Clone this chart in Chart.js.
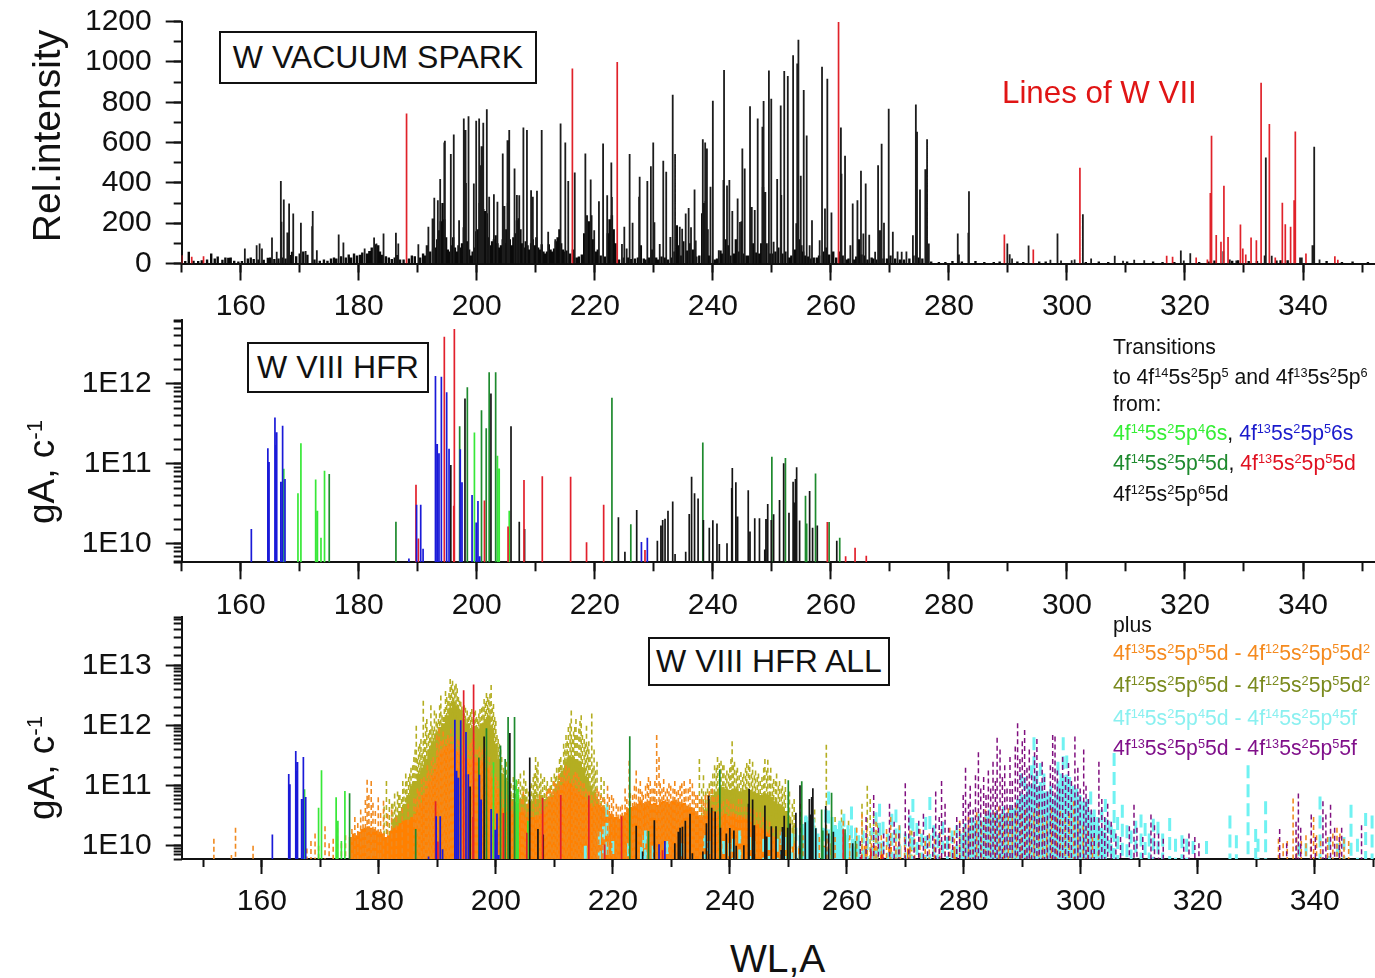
<!DOCTYPE html>
<html>
<head>
<meta charset="utf-8">
<title>W spectra</title>
<script src="https://cdn.jsdelivr.net/npm/chart.js@4/dist/chart.umd.min.js"></script>
<style>
  body { margin: 0; background: #fff; font-family: "Liberation Sans", Arial, sans-serif; color: #111; }
  #page { position: relative; width: 1375px; height: 978px; overflow: hidden; }
  canvas { position: absolute; left: 0; }
  .box { position: absolute; border: 2px solid #111; box-sizing: border-box; font-size: 32px; text-align: center; white-space: nowrap; background: #fff; z-index: 5; }
  .txt { position: absolute; white-space: nowrap; z-index: 5; }
  .leg { position: absolute; left: 1113px; font-size: 21.2px; white-space: nowrap; transform: translateY(-50%); z-index: 5; }
  .rot { position: absolute; white-space: nowrap; transform: translate(-50%, -50%) rotate(-90deg); z-index: 5; }
  sup { font-size: 0.6em; line-height: 0; vertical-align: baseline; position: relative; top: -0.55em; }
</style>
</head>
<body>
<div id="page">
  <canvas id="sparkChart" width="1375" height="335" style="top:0"></canvas>
  <canvas id="hfrChart" width="1375" height="340" style="top:300px"></canvas>
  <canvas id="allChart" width="1375" height="325" style="top:600px"></canvas>

  <div class="rot" style="left:47px;top:136px;font-size:39px">Rel.intensity</div>
  <div class="rot" style="left:42px;top:472px;font-size:37px">gA, c<sup>-1</sup></div>
  <div class="rot" style="left:42px;top:768px;font-size:37px">gA, c<sup>-1</sup></div>
  <div class="txt" style="left:730px;top:937px;font-size:39px">WL,A</div>

  <div class="box" style="left:219px;top:31px;width:318px;height:53px;line-height:49px">W VACUUM SPARK</div>
  <div class="box" style="left:247px;top:342px;width:182px;height:51px;line-height:47px">W VIII HFR</div>
  <div class="box" style="left:648px;top:637px;width:242px;height:49px;line-height:45px">W VIII HFR ALL</div>
  <div class="txt" style="left:1002px;top:75px;font-size:31.3px;color:#e01515">Lines of W VII</div>

  <div class="leg" style="top:347px">Transitions</div>
  <div class="leg" style="top:377px">to 4f<sup>14</sup>5s<sup>2</sup>5p<sup>5</sup> and 4f<sup>13</sup>5s<sup>2</sup>5p<sup>6</sup></div>
  <div class="leg" style="top:404px">from:</div>
  <div class="leg" style="top:433px"><span style="color:#35ee35">4f<sup>14</sup>5s<sup>2</sup>5p<sup>4</sup>6s</span>, <span style="color:#1a1acc">4f<sup>13</sup>5s<sup>2</sup>5p<sup>5</sup>6s</span></div>
  <div class="leg" style="top:463px"><span style="color:#1e8a2e">4f<sup>14</sup>5s<sup>2</sup>5p<sup>4</sup>5d</span>, <span style="color:#e01020">4f<sup>13</sup>5s<sup>2</sup>5p<sup>5</sup>5d</span></div>
  <div class="leg" style="top:494px">4f<sup>12</sup>5s<sup>2</sup>5p<sup>6</sup>5d</div>

  <div class="leg" style="top:625px">plus</div>
  <div class="leg" style="top:653px;color:#f58a1e">4f<sup>13</sup>5s<sup>2</sup>5p<sup>5</sup>5d - 4f<sup>12</sup>5s<sup>2</sup>5p<sup>5</sup>5d<sup>2</sup></div>
  <div class="leg" style="top:685px;color:#7a8a1e">4f<sup>12</sup>5s<sup>2</sup>5p<sup>6</sup>5d - 4f<sup>12</sup>5s<sup>2</sup>5p<sup>5</sup>5d<sup>2</sup></div>
  <div class="leg" style="top:718px;color:#8af0f0">4f<sup>14</sup>5s<sup>2</sup>5p<sup>4</sup>5d - 4f<sup>14</sup>5s<sup>2</sup>5p<sup>4</sup>5f</div>
  <div class="leg" style="top:748px;color:#80108a">4f<sup>13</sup>5s<sup>2</sup>5p<sup>5</sup>5d - 4f<sup>13</sup>5s<sup>2</sup>5p<sup>5</sup>5f</div>
</div>

<script>
// All lists are [wavelength, height]. Spark heights are rel. intensity, gA heights are in units of 1E10.
const sparkPeaks = [[160.7,75],[162.7,91],[163.2,99],[163.6,75],[165.3,129],[166.1,58],[166.8,410],[166.9,207],[167.3,318],[167.9,154],[168.2,298],[168.9,248],[170.2,202],[171,62],[172.1,185],[172.2,260],[172.9,66],[176.6,144],[177.4,104],[181,75],[182.6,129],[183,99],[184.2,149],[186.3,152],[186.7,99],[190.1,96],[191.5,91],[191.8,182],[192.5,223],[192.8,326],[193.4,314],[193.8,419],[194.6,609],[194.5,600],[195.6,543],[196.1,640],[197,215],[197.8,720],[198.1,662],[198.6,731],[199.5,397],[199.9,708],[200.4,720],[200.6,488],[200.8,582],[201.1,698],[201.7,766],[202.1,331],[202.9,344],[203.5,306],[204.4,546],[204.7,285],[205.2,612],[205.5,662],[206.4,472],[206.8,340],[207.2,339],[207.9,675],[208.5,662],[209.2,364],[209.5,331],[210.2,361],[211,662],[212.1,157],[213.3,120],[214.2,695],[215,601],[215.5,409],[216.6,452],[218.4,546],[218.7,240],[219.3,417],[219.9,165],[220.7,309],[221.4,596],[222.1,339],[222.8,501],[222.9,330],[224.6,97],[225,182],[225.4,75],[225.9,543],[226.4,202],[227.5,331],[227.6,430],[228.9,409],[229.5,483],[229.9,601],[230.1,205],[231,97],[231.6,510],[232.1,455],[232.8,132],[233.2,837],[233.6,543],[234.4,182],[234.8,173],[235.4,248],[235.9,276],[236.3,180],[236.9,367],[237.1,114],[238.3,617],[238.7,601],[239,571],[239.6,381],[240,808],[241,66],[241.8,414],[241.9,960],[242.4,387],[242.8,414],[243.3,260],[244.2,323],[244.6,206],[245,571],[245.4,472],[246.3,781],[246.6,280],[247.1,265],[247.6,720],[248.4,679],[248.6,806],[248.9,355],[249.5,958],[249.9,818],[250.3,108],[250.9,419],[251.5,784],[251.6,340],[252.1,955],[252.7,930],[253.6,1033],[254.3,993],[254.5,1110],[254.9,435],[255.4,861],[255.9,635],[256.4,90],[256.8,215],[258.1,115],[258.5,976],[259,273],[259.4,917],[260.1,253],[261.7,675],[261.8,445],[262.4,535],[263.3,91],[263.7,298],[264.5,314],[265.1,460],[265.5,149],[265.9,397],[266.5,143],[267.5,58],[268,488],[268.3,165],[268.6,594],[269,202],[269.8,768],[270.5,157],[271.3,60],[272,58],[272.8,60],[273.9,140],[274.4,789],[274.6,654],[275.1,367],[276,468],[276.3,617],[276.6,99],[281.5,149],[281.7,45],[283.3,152],[283.4,359],[289.9,99],[290.3,46],[290.7,25],[293.5,89],[297.2,18],[298.4,149],[299,15],[300.8,16],[301.3,20],[302.7,245],[304.1,25],[308.1,38],[309.5,14],[311.4,18],[313.1,16],[319.3,65],[319.8,15],[320.9,51],[326.5,61],[327.6,20],[328.7,15],[333.7,526],[333.5,40],[334.7,38],[339.5,30],[339.8,30],[341.6,91],[341.9,579],[342.8,20]];
const sparkGrass = [[150.6,12],[151.2,58],[152,14],[152.8,12],[153.4,16],[154.3,20],[155,50],[155.6,25],[156.1,35],[156.9,18],[157.4,30],[157.9,28],[158.3,30],[158.9,14],[159.6,10],[160.2,12],[161.2,25],[161.7,30],[162.2,22],[163,20],[163.9,18],[164.6,28],[165,30],[165.7,22],[166.4,25],[167,30],[167.6,25],[168.4,42],[168.7,58],[169.4,36],[170,50],[170.6,60],[171.3,44],[172.5,20],[173.4,14],[174.1,20],[174.7,14],[175.3,25],[175.8,30],[176.2,25],[177,36],[177.8,30],[178.3,45],[178.7,30],[179.2,50],[179.7,40],[180.2,44],[180.6,55],[181.4,50],[181.8,62],[182.2,80],[182.9,95],[183.3,90],[183.6,60],[184,44],[184.6,36],[185.1,30],[185.6,22],[186.1,30],[186.5,42],[187,20],[187.6,20],[188.5,25],[189,40],[189.5,36],[190.4,30],[190.9,50],[191.2,40],[192.1,60],[192.6,70],[193,80],[193.3,120],[193.6,165],[193.9,210],[194.2,300],[194.5,220],[194.8,130],[195.1,70],[195.4,60],[195.7,90],[196,130],[196.3,80],[196.6,60],[196.9,90],[197.2,80],[197.5,100],[197.8,180],[198.1,400],[198.4,110],[198.7,70],[199,40],[199.3,60],[199.6,80],[199.9,160],[200.2,170],[200.5,300],[200.8,290],[201.1,270],[201.4,260],[201.7,250],[202,130],[202.3,90],[202.6,110],[202.9,120],[203.2,140],[203.5,100],[203.8,80],[204.1,90],[204.4,120],[204.7,100],[205,170],[205.3,300],[205.6,120],[205.9,90],[206.2,130],[206.5,150],[206.8,215],[207.1,225],[207.4,170],[207.7,100],[208,80],[208.3,110],[208.6,90],[208.9,70],[209.2,100],[209.5,120],[209.8,90],[210.1,130],[210.4,80],[210.7,70],[211,95],[211.3,60],[211.6,50],[211.9,60],[212.2,95],[212.5,70],[212.8,60],[213.1,75],[213.4,110],[213.7,130],[214,170],[214.3,100],[214.6,70],[214.9,60],[215.2,65],[215.8,50],[216.3,70],[216.9,30],[217.3,35],[217.8,45],[218.2,150],[218.6,180],[219,210],[219.4,240],[219.7,120],[220.2,60],[220.5,70],[221,40],[221.7,35],[222.2,150],[222.5,220],[222.9,240],[223.2,170],[223.5,100],[224.1,20],[224.9,30],[225.6,30],[226.1,22],[226.8,25],[227.3,30],[227.8,90],[228.3,25],[228.6,20],[229.2,30],[229.7,70],[230.4,30],[230.8,20],[231.3,35],[231.9,30],[232.4,20],[233,30],[233.5,60],[233.9,190],[234.2,90],[234.6,40],[235,110],[235.6,65],[236.1,100],[236.6,70],[237.2,35],[237.7,40],[238.2,250],[238.5,300],[238.8,310],[239.1,170],[239.5,40],[240.3,20],[240.7,25],[241.3,65],[241.7,50],[242.2,120],[242.6,90],[243,40],[243.6,50],[243.9,120],[244.4,60],[244.9,210],[245.2,50],[245.7,40],[246,40],[246.8,100],[247.3,55],[247.8,50],[248.2,100],[248.5,380],[248.8,250],[249.1,100],[249.7,50],[250.1,50],[250.6,60],[251.1,80],[251.8,50],[252.3,60],[252.9,30],[253.3,40],[253.9,70],[254.2,200],[254.6,120],[255,90],[255.3,60],[255.7,40],[256.1,35],[256.6,25],[257.1,30],[257.6,30],[258,40],[258.8,60],[259.2,80],[259.7,45],[260.4,60],[260.9,30],[261.4,60],[262,40],[262.7,20],[263,25],[263.9,20],[264.3,35],[264.8,120],[265.2,45],[265.7,40],[266.2,20],[266.9,30],[267.2,25],[267.7,20],[268.4,30],[268.9,25],[269.5,25],[270.1,40],[270.9,25],[271.7,20],[272.4,20],[273.3,25],[274,40],[274.9,30],[275.5,25],[276.2,30],[277,10],[278.3,8],[279.4,8],[280.6,12],[282.2,10],[284.5,12],[286,8],[287.6,8],[288.6,10],[291.6,10],[292.6,8],[295.3,10],[296.4,10],[303.2,8],[305.4,10],[307,8],[310.2,10],[314.6,10],[316.2,8],[318.2,8],[322.4,8],[324,10],[325,15],[328,14],[329,16],[330.8,12],[332.2,12],[335.5,15],[336.2,16],[337.4,16],[344,12],[346.6,8],[348.4,10],[351,8]];
const sparkRed = [[150,41],[151.7,33],[153.7,36],[188.1,745],[216.2,968],[223.8,1000],[261.3,1198],[289.4,144],[294.3,70],[302.2,475],[316.9,38],[317.9,33],[321.9,30],[323.8,20],[324.3,350],[324.5,634],[325.3,141],[326.1,108],[326.6,386],[327.3,132],[329.4,194],[329.8,74],[330.3,45],[331.2,129],[332.1,116],[332.9,897],[334.3,692],[335.3,30],[336.5,301],[337,195],[337.9,182],[338.5,314],[338.7,655],[340.5,50],[345.4,36],[345.9,18]];

const blueLines = [[161.8,1.54],[164.6,15.7],[164.8,10.6],[165.8,38],[166,17.3],[166.1,24.9],[166.8,6],[167.1,30],[167.5,6.5],[188.5,0.66],[189.8,3.1],[190.5,3.1],[190.9,0.87],[193,126],[193.3,17.8],[193.6,13.6],[194,123],[194.9,78.7],[195.3,15.5],[197.2,15.3],[197.5,5.9],[199.2,4.1],[199.9,1.85],[200.2,3.45],[200.5,0.7],[227.9,1.06],[228.9,1.2]];
const greenLines = [[167.3,8.7],[169.7,4.3],[170.2,18.1],[172.7,6.4],[173,2.6],[173.6,1.2],[174.2,8.2],[199.6,24.7],[203.5,12.7],[203.8,8.8],[205.5,2.6]];
const darkGreenLines = [[175,7.5],[186.3,1.9],[197.1,29.5],[198.4,91],[200.8,47],[201.6,28],[202.1,140],[203.2,140],[222.9,67],[226.1,1.76],[238.3,18.6],[250,12.3],[252.3,11.9],[255.7,4],[255.9,1.8],[257.4,7.6],[259.7,1.88],[261.5,1.2]];
const redLines = [[189.7,5.5],[190.1,1.17],[194.5,390],[196.2,487],[196.1,3],[201.3,3.5],[205.3,1.65],[208,6.3],[211.1,7],[215.9,6.9],[218.6,1.05],[221.5,3.1],[228.5,0.84],[259.4,1.88],[262.5,0.7],[264.1,0.9],[266,0.71]];
const blackLines = [[195.6,9.7],[198,66],[202.4,76],[205.8,29.5],[207.2,1.9],[208.1,1.54],[224,2.15],[225.1,0.8],[227.1,2.66],[230.6,1.1],[231.2,1.7],[231.5,2],[231.9,2.07],[232.4,2.6],[233.2,3.4],[233.6,0.75],[235.4,0.8],[236,2.37],[236.4,6.9],[236.9,4.3],[237.5,3.7],[238.4,2],[239.4,1.6],[240,1.98],[240.7,1.8],[241.1,1],[242.4,1.02],[243.2,5],[243.3,8.9],[243.9,5.9],[244.2,2.2],[246,4.7],[246.3,1.43],[247.1,2.1],[247.9,2.1],[248.8,0.85],[249,2.05],[249.3,3.16],[249.9,1.99],[250.3,2.35],[251.3,3.55],[252,10.2],[252.9,2.46],[253.6,6],[253.8,3.3],[254,6.5],[254.2,9.1],[254.7,1.96],[256.4,4.6],[256.9,1.6],[257.7,1.7],[261,1.1]];

// dashed series of the bottom panel: the tall separate lines
const orangeLines = [[151.8,1.3],[154.8,0.7],[155.5,2],[158.5,1],[167.7,0.9],[168.4,1.2],[169.1,1.6],[169.7,1],[170.8,2.1],[171.5,1.1],[172.2,1.3],[172.9,2],[173.6,1.1],[174.3,1.5],[175.4,1.9],[175.9,3],[176.4,2.4],[176.9,4],[177.3,3.1],[177.7,5.8],[178,12.6],[178.3,7],[178.7,12],[179,5.2],[179.4,3.8],[179.9,6.4],[180.3,3.5],[180.8,5.6],[181.5,3.4],[182.2,4],[183,3],[184,4.2],[185,5],[186,6.2],[186.8,8],[187.7,14],[188.5,18],[189.3,30],[189.9,70],[190.5,56],[191.2,48],[192,62],[192.8,50],[193.5,60],[194.3,80],[195,46],[195.8,52],[196.6,40],[197.4,36],[198.2,45],[199,20],[199.8,16],[200.6,9],[201.7,6],[202.8,5.5],[203.9,5],[205,4],[206,3.8],[207.2,4.5],[208.4,5.5],[209.6,8],[210.5,10],[211.4,14],[212.2,18],[213,13],[213.9,16],[214.8,11],[215.7,8],[216.8,6],[217.6,8],[218.3,6.4],[219.1,10],[219.8,7],[220.6,5],[221.3,4.5],[222.1,9],[222.8,26],[223.4,7],[224,18],[224.4,9],[225.2,7],[225.9,11],[226.4,12],[227,9],[227.5,70],[227.9,30],[228.4,9],[229,8],[229.6,11],[230.3,9],[230.9,8],[231.5,10],[232.2,12],[232.9,9],[233.6,11],[234.2,7],[234.9,6],[235.5,5.5],[236.2,7],[237,9],[237.8,6.5],[238.6,5],[239.5,6],[240.2,5],[241.1,4.6],[242,6],[243,4.4],[244.1,4],[245.2,3.6],[246.2,2.6],[247.4,2],[248.6,1.8],[250,1.6],[251.2,1.9],[252.5,1.5],[253.8,2.4],[255.3,1.4],[256.6,1.8],[258,1.4],[259.4,2.6],[260.5,1.5],[261.7,2],[262.6,3.4],[263.4,2],[264.2,1.5],[265,2.5],[265.9,1.5],[266.8,1.9],[267.5,3],[268.4,1.6],[269,2.2],[269.9,1.4],[270.8,1.8],[271.6,1.3],[272.5,1.9],[273.4,1.2],[274.1,1.6],[275,1.3],[275.9,1.7],[276.8,1.5],[277.6,2],[278.4,1.8],[279.3,2.6],[280,2],[280.8,3],[281.5,2.2],[282.2,3.6],[283,2.5],[283.7,4],[284.5,2.8],[285.3,3.6],[286,4.5],[286.8,3.2],[287.6,4.2],[288.3,3],[289,4.8],[289.8,3.4],[290.5,4],[291.3,3],[292,3.6],[292.8,5],[293.5,3.2],[294.2,2.6],[295,4.2],[295.8,3],[296.5,3.8],[297.3,2.8],[298,3.5],[298.8,5.5],[299.5,2.6],[300.4,2.2],[301.2,1.8],[302,1.4],[303,1.5],[333.8,1.3],[334.6,1.1],[335.3,1.2],[336.3,6.1],[336.9,1.4],[337.7,1.2],[338.5,1.5],[339.3,1.3],[339.8,3],[340.3,1.5],[341,1.2],[342.2,1.4],[343.1,1.6],[343.8,2],[344.3,1.6],[345,1.3],[345.8,1.2]];
const orangeFluff = [[186.3,6],[186.6,9],[187,8],[187.3,13],[188,12],[188.3,22],[188.8,16],[189,26],[189.6,24],[190,40],[190.3,90],[190.8,55],[191,80],[191.5,60],[191.8,70],[192.3,90],[192.6,66],[193.1,75],[193.7,55],[194,70],[194.6,48],[195.3,40],[195.6,50],[196,60],[196.3,75],[196.9,40],[197.2,45],[197.7,40],[198,36],[198.5,32],[198.9,30],[199.4,22],[200,14],[200.3,12],[200.9,8],[201.4,6],[202,7],[202.5,5],[203.2,6],[203.6,5],[204.4,6],[204.7,8],[205.4,5],[205.7,5],[206.4,5],[206.8,6],[207.5,7],[207.9,6],[208.7,8],[209,9],[209.3,9],[209.9,12],[210.2,11],[210.8,16],[211.1,14],[211.7,18],[212,22],[212.5,20],[213.3,15],[213.6,17],[214.2,14],[214.5,12],[215.1,11],[215.4,9],[216,8],[216.4,7],[217,7.5],[217.3,9],[217.9,7],[218.6,6],[219.4,6.5],[220.1,6.2],[220.9,4.5],[221.6,4.8],[222.4,6],[223,7.5],[223.7,10],[224.7,12],[225,8],[225.6,10],[226.1,14],[226.7,9],[227.2,12],[228.1,11],[228.7,13],[229.3,9],[229.9,10],[230.6,12],[231.2,8.5],[231.8,11],[232.5,9],[233.2,13],[233.9,8],[234.5,7],[235.2,6],[235.8,7],[236.5,8],[237.3,6.5],[238,7],[238.9,5.5],[239.8,5.5],[240.6,5],[241.5,6],[242.5,4.5],[243.5,4.2],[244.6,3.6],[245.7,3],[246.8,2.5]];
const oliveLines = [[180.9,4.5],[181.3,12],[181.8,6],[182.2,5],[182.7,7.4],[183.2,8],[183.6,7],[184.1,12],[184.6,16],[185.1,14],[185.5,20],[186,30],[186.4,100],[186.8,45],[187.2,60],[187.6,260],[188,110],[188.5,75],[188.9,220],[189.3,85],[189.8,160],[190.2,130],[190.6,320],[191,140],[191.4,380],[191.8,260],[192.2,600],[192.6,560],[193,470],[193.4,420],[193.8,260],[194.2,210],[194.6,220],[195.1,180],[195.5,150],[195.9,190],[196.3,170],[196.7,140],[197.1,160],[197.6,200],[198,280],[198.4,350],[198.8,270],[199.2,480],[199.6,230],[200,120],[200.4,60],[200.8,40],[201.3,20],[201.8,25],[202.3,13],[203,14],[203.6,12],[204.2,16],[204.8,18],[205.3,9],[205.8,10],[206.4,14],[206.8,30],[207.2,25],[207.7,16],[208.3,14],[208.8,12],[209.3,10],[209.8,12],[210.2,14],[210.7,20],[211.1,30],[211.6,50],[212,70],[212.4,95],[212.9,180],[213.3,80],[213.7,130],[214.2,90],[214.6,150],[215.1,60],[215.5,100],[215.9,55],[216.4,160],[216.8,40],[217.3,25],[218,14],[218.5,12],[234.8,28],[235.5,15],[236.2,9],[236.8,12],[237.4,22],[237.9,30],[238.5,26],[239,22],[239.5,18],[240,20],[240.4,55],[240.8,25],[241.3,20],[241.9,17],[242.4,16],[242.9,24],[243.4,28],[243.9,25],[244.4,18],[244.9,16],[245.5,14],[246,28],[246.5,27],[247,20],[247.5,13],[248,16],[248.5,12],[249,10],[249.5,13],[250.2,8],[251,6],[252.1,5],[254.5,4],[256.5,48],[258,3],[259.1,4],[260.3,2.6],[261.6,2],[262.6,5],[263.5,10],[264,6],[264.6,3.5],[265.3,2.4],[269,2],[271.1,1.8]];
const oliveFluff = [[182.4,5],[182.9,4.5],[183.4,7],[183.9,6],[184.3,9],[184.8,12],[185.3,16],[185.8,22],[186.2,40],[186.6,28],[187,50],[187.4,35],[187.8,60],[188.2,130],[188.7,85],[189.1,100],[189.5,180],[190,110],[190.4,220],[190.8,150],[191.2,190],[191.6,300],[192,350],[192.4,480],[192.8,400],[193.2,500],[193.6,300],[194,250],[194.4,180],[194.8,200],[195.3,140],[195.7,170],[196.1,130],[196.5,180],[196.9,130],[197.3,190],[197.8,210],[198.2,240],[198.6,300],[199,340],[199.4,200],[199.8,140],[200.2,70],[200.6,50],[201,30],[201.6,18],[202,15],[202.6,11],[203.3,10],[203.9,13],[204.5,10],[205.1,12],[205.6,8],[206.1,11],[206.6,16],[207,20],[207.5,11],[208,13],[208.6,10],[209.1,9],[209.5,14],[210,16],[210.4,20],[210.9,28],[211.3,22],[211.8,40],[212.2,55],[212.7,110],[213.1,60],[213.5,95],[213.9,70],[214.4,120],[214.8,70],[215.3,50],[215.7,45],[216.1,30],[216.6,20],[217,18],[235.2,9],[235.9,8],[236.5,11],[237.1,16],[237.7,20],[238.2,24],[238.8,22],[239.3,15],[239.8,16],[240.2,28],[240.6,22],[241.1,18],[241.6,15],[242.2,14],[242.7,20],[243.2,22],[243.7,16],[244.2,15],[244.7,14],[245.2,12],[245.8,20],[246.3,18],[246.8,15],[247.3,11],[247.8,12],[248.3,10],[248.8,9],[249.3,8],[250,7],[250.7,5]];
const cyanLines = [[215.3,1],[217.7,1.7],[218.4,2.1],[219,5],[220,1.2],[222.7,1.1],[224.9,0.95],[225.3,1.5],[225.6,1.8],[226.9,1],[229.3,1.2],[231.8,1.1],[235.7,1.5],[236.4,1.2],[238.9,1.2],[240,1.1],[240.6,1.3],[241.7,1.8],[243.4,1.4],[244.1,1.2],[245.8,1.3],[246.7,1.4],[248.1,1.3],[248.8,1.7],[249.4,1.4],[250.6,1.6],[251.3,2],[252,1.5],[252.4,2.3],[253,3.2],[253.4,2.2],[254,3],[254.4,1.8],[255.2,1.3],[255.9,2],[256.4,4],[256.9,8],[257.5,3],[258.2,1.5],[258.8,2.6],[259.5,3.4],[260.2,2.2],[260.8,4.5],[261.5,2],[262,1.5],[262.8,1.8],[263.5,1.4],[264.3,2],[265,3.6],[265.6,5],[266.2,2.5],[267,1.6],[267.7,3.4],[268.4,4],[269,2.2],[270,1.6],[270.8,3.2],[271.3,6],[272,2.4],[272.8,1.6],[273.5,3],[274.2,6.5],[274.9,2.2],[275.6,1.5],[276.4,2.5],[277.2,1.4],[278,1.8],[278.8,2.2],[279.5,1.6],[280.2,2.4],[280.8,1.8],[281.4,3],[282,2.6],[282.6,3.4],[283.2,2.6],[283.8,3.4],[284.4,4],[285,3.4],[285.6,3.8],[286.2,3.2],[286.8,4.5],[287.4,3.5],[288,4.8],[288.6,4],[289.2,6],[289.8,16],[290.4,14],[291,10],[291.6,22],[292,64],[292.5,18],[293.1,24],[293.7,16],[294.3,8],[294.9,10],[295.5,6],[296.1,25],[296.6,16],[297,64],[297.6,32],[298.1,14],[298.7,10],[299.3,9],[299.9,7],[300.5,5.5],[301.1,6],[301.7,8],[302.3,4],[302.9,3],[303.6,4],[304.2,6],[304.8,2.6],[305.2,2.2],[305.7,35],[306.3,3],[307.1,4.8],[307.9,2.2],[308.6,1.8],[309.4,2.6],[310.3,3.3],[311,2.4],[311.7,1.6],[312.4,2.8],[313.2,2.5],[314,1.6],[315.2,2.9],[316.2,1.3],[317.3,1.5],[318.1,1.3],[319.2,1.2],[321.5,1.2],[325.5,3.2],[326.6,1.5],[328.6,22],[329.9,1.9],[330.3,1.3],[331.6,5.5],[337.3,1.1],[338.5,1.1],[340.9,6.6],[342.5,1.4],[343.9,1.1],[345,1.4],[346.2,4.8],[347.3,1.3],[348.7,3.5],[349.8,3.2]];
const purpleLines = [[262.3,1.2],[263.3,3],[264.6,7],[265.4,2],[266.3,1.6],[267.3,5],[268.1,2.5],[268.9,1.6],[270,11],[270.6,4],[271.5,1.7],[272.3,2.6],[273.1,3.4],[273.8,1.5],[274.7,2],[275.2,8],[275.8,3],[276.2,12],[276.8,5],[277.4,2],[278.1,1.4],[278.8,3],[279.3,2.4],[279.9,7],[280.3,20],[280.8,5],[281.1,10],[281.6,4],[282,15],[282.5,36],[282.9,9],[283.4,14],[283.8,7],[284.2,18],[284.6,9],[285,25],[285.4,12],[285.7,63],[286.2,40],[286.6,14],[287,22],[287.4,9],[287.9,30],[288.3,12],[288.8,45],[289.2,110],[289.6,28],[290,55],[290.4,85],[290.8,20],[291.2,40],[291.6,15],[292.1,36],[292.5,60],[292.9,10],[293.4,25],[293.8,14],[294.3,8],[294.8,22],[295.2,70],[295.6,66],[296,18],[296.4,9],[296.9,30],[297.4,14],[297.9,24],[298.4,12],[299,66],[299.5,20],[299.9,9],[300.5,40],[300.9,10],[301.3,6],[301.8,4],[302.3,3],[303.1,25],[303.6,6],[304.1,3],[304.6,5],[305.2,2.5],[306,1.6],[306.8,1.4],[308.3,2.1],[309.1,4.8],[309.6,2],[310.6,1.4],[312,3.3],[312.6,2.2],[313.3,1.6],[314.1,1.3],[317.6,1.3],[318.5,1.6],[319.5,1.4],[320.2,1.1],[334,1.9],[335.2,1.1],[336.8,2.5],[337.2,7.4],[337.6,2],[339.4,3.3],[340.1,1.4],[341.4,5.5],[341.9,3.3],[342.7,4.8],[343.4,2],[344.2,1.4],[344.6,2],[348,2.2]];

// the part of the clouds that reads as solid colour
const orangeSolid = [[175.2,1.4],[175.7,1.6],[176.2,1.5],[176.7,1.7],[177.2,1.9],[177.7,2],[178.2,2.1],[178.7,2],[179.2,1.9],[179.7,1.8],[180.2,1.7],[180.7,1.6],[181.2,1.4],[181.7,1.5],[182.2,1.8],[182.7,2],[183.2,2.1],[183.7,2.4],[184.2,2.6],[184.7,2.7],[185.2,2.7],[185.7,3],[186.2,3.4],[186.7,4.2],[187.2,5.2],[187.7,7],[188.2,9],[188.7,12],[189.2,15],[189.7,19],[190.2,30],[190.7,38],[191.2,44],[191.7,46],[192.2,50],[192.7,44],[193.2,38],[193.7,36],[194.2,32],[194.7,30],[195.2,28],[195.7,26],[196.2,30],[196.7,28],[197.2,24],[197.7,26],[198.2,24],[198.7,20],[199.2,14],[199.7,11],[200.2,9],[200.7,6],[201.2,4.2],[201.7,3.6],[202.2,3.6],[202.7,3.8],[203.2,3.4],[203.7,3.2],[204.2,3.6],[204.7,3.8],[205.2,3],[205.7,2.8],[206.2,3],[206.7,3],[207.2,3.2],[207.7,3.4],[208.2,3.8],[208.7,4.5],[209.2,5.5],[209.7,6.5],[210.2,7.5],[210.7,8.5],[211.2,10],[211.7,11],[212.2,12],[212.7,11],[213.2,10],[213.7,9],[214.2,8],[214.7,7],[215.2,6.5],[215.7,5.5],[216.2,5],[216.7,4.5],[217.2,5],[217.7,4.8],[218.2,4.5],[218.7,4.2],[219.2,3.8],[219.7,3.4],[220.2,3],[220.7,3],[221.2,2.8],[221.7,3.2],[222.2,3.6],[222.7,4.2],[223.2,4.4],[223.7,4.6],[224.2,5],[224.7,5.6],[225.2,5],[225.7,5.4],[226.2,5.6],[226.7,5],[227.2,5.2],[227.7,4.8],[228.2,5.4],[228.7,5.6],[229.2,5.4],[229.7,5],[230.2,5.6],[230.7,5.8],[231.2,5.4],[231.7,5],[232.2,5.2],[232.7,4.6],[233.2,4.4],[233.7,4.2],[234.2,3.6],[234.7,3.2],[235.2,3],[235.7,3.2],[236.2,3.4],[236.7,3.5],[237.2,3.8],[237.7,3.4],[238.2,3.6],[238.7,3.2],[239.2,3.4],[239.7,3.1],[240.2,3.2],[240.7,3.4],[241.2,3],[241.7,3.2],[242.2,3],[242.7,2.8],[243.2,2.6],[243.7,2.5],[244.2,2.2],[244.7,2.3],[245.2,2],[245.7,1.9],[246.2,1.7],[246.7,1.6],[247.2,1.4],[247.7,1.4],[248.4,1.2],[249.2,1.2],[250,1.1],[251,1.1],[252,1],[253.2,1.1],[254.6,1],[256,1],[257.4,1.1],[259,1],[260.4,1.1],[261.8,1],[263.2,1],[264.6,1],[266,1],[267.4,0.95],[269,1],[270.6,0.9],[278.5,0.95],[280.3,1],[281.6,1.1],[283,1.05]];
const oliveSolid = [[182.6,2.8],[183.2,3.2],[183.8,3.8],[184.4,5],[185,7],[185.6,10],[186.2,12],[186.8,16],[187.4,20],[188,28],[188.6,40],[189.2,55],[189.8,75],[190.4,95],[191,110],[191.6,150],[192.2,200],[192.8,250],[193.4,220],[194,180],[194.6,130],[195.2,110],[195.8,90],[196.4,100],[197,90],[197.6,110],[198.2,130],[198.8,150],[199.4,90],[200,50],[200.6,28],[201.2,16],[201.8,12],[202.4,7],[203,6],[203.6,5],[204.2,6],[204.8,7],[205.4,5],[206,5.5],[206.6,7],[207.2,6],[207.8,7],[208.4,6],[209,6.5],[209.6,7],[210.2,9],[210.8,12],[211.4,18],[212,25],[212.6,32],[213.2,30],[213.8,28],[214.4,25],[215,20],[215.6,14],[216.2,10],[216.8,8],[217.4,6],[235.8,4],[236.4,5.5],[237,7],[237.6,8],[238.2,9],[238.8,9.5],[239.4,9],[240,8.5],[240.6,9],[241.2,9],[241.8,8],[242.4,8.5],[243,9],[243.6,8.5],[244.2,8],[244.8,7.5],[245.4,7],[246,7.5],[246.6,7],[247.2,6.5],[247.8,5.5],[248.4,5],[249,4.5],[249.6,3.8],[250.2,3],[251,2.2]];
const cyanSolid = [[252.6,2],[253,3],[253.4,2.6],[253.8,3.2],[254.2,2.8],[254.6,2],[255,1.6],[257.6,2],[258,2.2],[258.4,1.9],[258.8,2.4],[259.2,2],[259.6,1.6],[260,1.5],[261,1.3],[262,1.2],[279.5,1.5],[280.1,1.7],[280.7,1.6],[281.3,2],[281.9,2.1],[282.5,2.4],[283.1,2.4],[283.7,2.6],[284.3,3],[284.9,2.8],[285.5,3],[286.1,3.2],[286.7,3.5],[287.3,3.4],[287.9,4],[288.5,4.2],[289.1,5],[289.7,6],[290.3,7],[290.9,8],[291.5,10],[292.1,11],[292.7,10],[293.3,9],[293.9,8],[294.5,7],[295.1,6],[295.7,7],[296.3,10],[296.9,11],[297.5,10],[298.1,9],[298.7,8],[299.3,7],[299.9,5.5],[300.5,4.5],[301.1,4],[301.7,3.5],[302.3,2.8],[302.9,2.2],[303.5,2],[304.1,1.7]];

const tickSize = 30;

// turn [wl, height] into a vertical line; each line is walked top-down so dash phases differ
function dropPoints(lines, unit, floor) {
  const pts = [];
  lines.forEach(function (line) {
    pts.push({ x: line[0], y: line[1] * unit });
    pts.push({ x: line[0], y: floor });
    pts.push({ x: line[0], y: null });
  });
  return pts;
}

function dropSet(lines, color, width, dash, unit, floor) {
  return {
    type: "line",
    data: dropPoints(lines, unit, floor),
    borderColor: color,
    borderWidth: width,
    borderDash: dash || [],
    borderCapStyle: "butt",
    pointRadius: 0,
    spanGaps: false,
    tension: 0,
  };
}

const tickFont = { family: "'Liberation Sans', Arial, sans-serif", size: tickSize };

function zeroPad(s) {
  s.paddingTop = 0;
  s.paddingBottom = 0;
  s.paddingLeft = 0;
  s.paddingRight = 0;
}

function xAxes(xMin, xMax, height, majorLen, minorLen, pad) {
  return {
    x: {
      type: "linear",
      min: xMin,
      max: xMax,
      weight: 0,
      afterFit: function (s) { s.height = height; zeroPad(s); },
      grid: { drawOnChartArea: false, tickLength: majorLen, tickWidth: 2, tickColor: "#111" },
      border: { color: "#111", width: 2 },
      ticks: {
        stepSize: 20,
        includeBounds: false,
        autoSkip: false,
        maxRotation: 0,
        padding: pad,
        color: "#111",
        font: tickFont,
      },
    },
    xMinor: {
      type: "linear",
      axis: "x",
      position: "bottom",
      min: xMin,
      max: xMax,
      weight: -1,
      afterFit: function (s) { s.height = 0; zeroPad(s); },
      grid: { drawOnChartArea: false, tickLength: minorLen, tickWidth: 2, tickColor: "#111" },
      border: { display: false },
      ticks: { stepSize: 10, includeBounds: false, autoSkip: false, maxRotation: 0, font: { size: 1 }, callback: function () { return ""; } },
    },
  };
}

function makeChart(id, datasets, scales, topPad) {
  return new Chart(document.getElementById(id).getContext("2d"), {
    type: "line",
    data: { datasets: datasets },
    options: {
      responsive: false,
      animation: false,
      events: [],
      layout: { padding: { top: topPad, left: 0, right: 0, bottom: 0 } },
      plugins: { legend: { display: false }, tooltip: { enabled: false } },
      scales: scales,
    },
  });
}

// top panel, linear intensity. Chart.js paints the first dataset last, so top layers come first
const sparkScales = xAxes(150, 352.2, 71.5, 17, 9, 8);
sparkScales.y = {
  type: "linear",
  position: "left",
  min: 0,
  max: 1200,
  weight: 0,
  afterFit: function (s) { s.width = 181.7; zeroPad(s); },
  grid: { drawOnChartArea: false, tickLength: 16, tickWidth: 2, tickColor: "#111" },
  border: { color: "#111", width: 2 },
  ticks: { stepSize: 200, autoSkip: false, padding: 14, color: "#111", font: tickFont, callback: function (v) { return String(v); } },
};
sparkScales.yMinor = {
  type: "linear",
  axis: "y",
  position: "left",
  min: 0,
  max: 1200,
  weight: -1,
  afterFit: function (s) { s.width = 0; zeroPad(s); },
  grid: { drawOnChartArea: false, tickLength: 8, tickWidth: 2, tickColor: "#111" },
  border: { display: false },
  ticks: { stepSize: 100, autoSkip: false, font: { size: 1 }, callback: function () { return ""; } },
};
makeChart("sparkChart", [
  dropSet(sparkRed, "#e0222a", 1.7, null, 1, 0),
  dropSet(sparkPeaks, "#1c1c1c", 1.8, null, 1, 0),
  dropSet(sparkGrass, "#0a0a0a", 2.4, null, 1, 0),
], sparkScales, 21.7);

// log axes for the two gA panels
const gaUnit = 1e10;
function logAxes(scales, yMin, yMax, majorValues) {
  scales.y = {
    type: "logarithmic",
    position: "left",
    min: yMin,
    max: yMax,
    weight: 0,
    afterFit: function (s) { s.width = 181.7; zeroPad(s); },
    afterBuildTicks: function (s) { s.ticks = majorValues.map(function (v) { return { value: v, major: true }; }); },
    grid: { drawOnChartArea: false, tickLength: 16, tickWidth: 2, tickColor: "#111" },
    border: { color: "#111", width: 2 },
    ticks: {
      padding: 14,
      autoSkip: false,
      color: "#111",
      font: tickFont,
      callback: function (v) { return "1E" + Math.round(Math.log10(v)); },
    },
  };
  scales.yMinor = {
    type: "logarithmic",
    axis: "y",
    position: "left",
    min: yMin,
    max: yMax,
    weight: -1,
    afterFit: function (s) { s.width = 0; zeroPad(s); },
    grid: { drawOnChartArea: false, tickLength: 8, tickWidth: 2, tickColor: "#111" },
    border: { display: false },
    ticks: { autoSkip: false, font: { size: 1 }, callback: function () { return ""; } },
  };
  return scales;
}

function solidSets(floor, width) {
  return [
    dropSet(blueLines, "#1a1ad8", width, null, gaUnit, floor),
    dropSet(redLines, "#e2202c", width, null, gaUnit, floor),
    dropSet(blackLines, "#151515", width, null, gaUnit, floor),
    dropSet(darkGreenLines, "#1e8a2e", width, null, gaUnit, floor),
    dropSet(greenLines, "#38e838", width, null, gaUnit, floor),
  ];
}

// middle panel
const hfrMin = 5.9e9;
const hfrTicks = [1e10, 1e11, 1e12];
makeChart("hfrChart", solidSets(hfrMin, 1.7),
  logAxes(xAxes(150, 352.2, 77.7, 17, 9, 8), hfrMin, 6.3e12, hfrTicks), 20);

// bottom panel
const allMin = 6e9;
const allTicks = [1e10, 1e11, 1e12, 1e13];
const allDash = [5, 3];
makeChart("allChart", solidSets(allMin, 1.7).concat([
  dropSet(purpleLines, "#80107f", 1.5, allDash, gaUnit, allMin),
  dropSet(orangeLines, "#f08a20", 1.6, allDash, gaUnit, allMin),
  dropSet(cyanLines, "#70f2f2", 3, [13, 6], gaUnit, allMin),
  dropSet(cyanSolid, "#70f2f2", 3.8, null, gaUnit, allMin),
  dropSet(orangeFluff, "#f58a18", 1.6, allDash, gaUnit, allMin),
  dropSet(orangeSolid, "#ff8000", 3.8, null, gaUnit, allMin),
  dropSet(oliveLines, "#b4ae22", 1.6, allDash, gaUnit, allMin),
  dropSet(oliveFluff, "#b4ae22", 1.6, allDash, gaUnit, allMin),
  dropSet(oliveSolid, "#b4ae22", 3.8, null, gaUnit, allMin),
]), logAxes(xAxes(146.3, 350.3, 66, 15, 8, 10), allMin, 6.5e13, allTicks), 17);
</script>
</body>
</html>
